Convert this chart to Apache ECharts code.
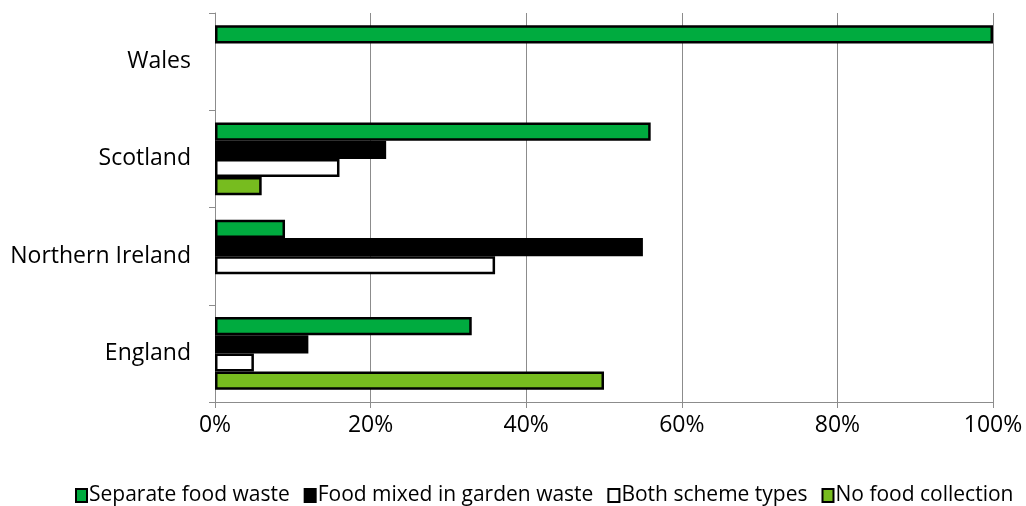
<!DOCTYPE html>
<html><head><meta charset="utf-8">
<script src="https://cdn.jsdelivr.net/npm/echarts@6/dist/echarts.min.js"></script>
<style>html,body{margin:0;padding:0;background:#fff}#c{width:1026px;height:506px}</style>
</head><body><div id="c"></div>
<script>
const categories = ['Wales', 'Scotland', 'Northern Ireland', 'England'];
const seriesNames = ['Separate food waste', 'Food mixed in garden waste', 'Both scheme types', 'No food collection'];
const separateFood = [100, 56, 9, 33];
const mixedGarden = [0, 22, 55, 12];
const bothTypes = [0, 16, 36, 5];
const noCollection = [0, 6, 0, 50];
const xTicks = [0, 20, 40, 60, 80, 100];
const colors = ['#00ab3f', '#000000', '#ffffff', '#77bc1f'];

const values = [separateFood, mixedGarden, bothTypes, noCollection];
const font = '"Open Sans", sans-serif';
const chart = echarts.init(document.getElementById('c'), null, {renderer: 'canvas'});
chart.setOption({
  animation: false,
  grid: {left: 215, right: 33, top: 13, bottom: 104, containLabel: false},
  legend: {
    top: 480, left: 70,
    itemWidth: 11, itemHeight: 13, itemGap: 14,
    icon: 'rect',
    textStyle: {fontFamily: font, fontSize: 21, color: '#000', padding: [0,0,0,-3]},
    data: seriesNames
  },
  xAxis: {
    type: 'value', min: xTicks[0], max: xTicks[xTicks.length-1], interval: 20,
    axisLine: {show: true, lineStyle: {color: '#8c8c8c', width: 1}},
    axisTick: {show: true, length: 6, lineStyle: {color: '#8c8c8c'}},
    splitLine: {show: true, lineStyle: {color: '#8c8c8c', width: 1}},
    axisLabel: {formatter: v => v + '%', fontFamily: font, fontSize: 23, color: '#000', margin: 12}
  },
  yAxis: {
    type: 'category', data: categories, inverse: true,
    axisLine: {show: true, lineStyle: {color: '#8c8c8c', width: 1}},
    axisTick: {show: true, length: 6, lineStyle: {color: '#8c8c8c'}},
    axisLabel: {fontFamily: font, fontSize: 23, color: '#000', margin: 24}
  },
  series: values.map((arr, i) => ({
    name: seriesNames[i], type: 'bar',
    data: arr.map(v => v === 0 ? '-' : v),
    barGap: '0%', barCategoryGap: '25%',
    itemStyle: {color: colors[i], borderColor: '#000', borderWidth: 2.5}
  }))
});
</script></body></html>
